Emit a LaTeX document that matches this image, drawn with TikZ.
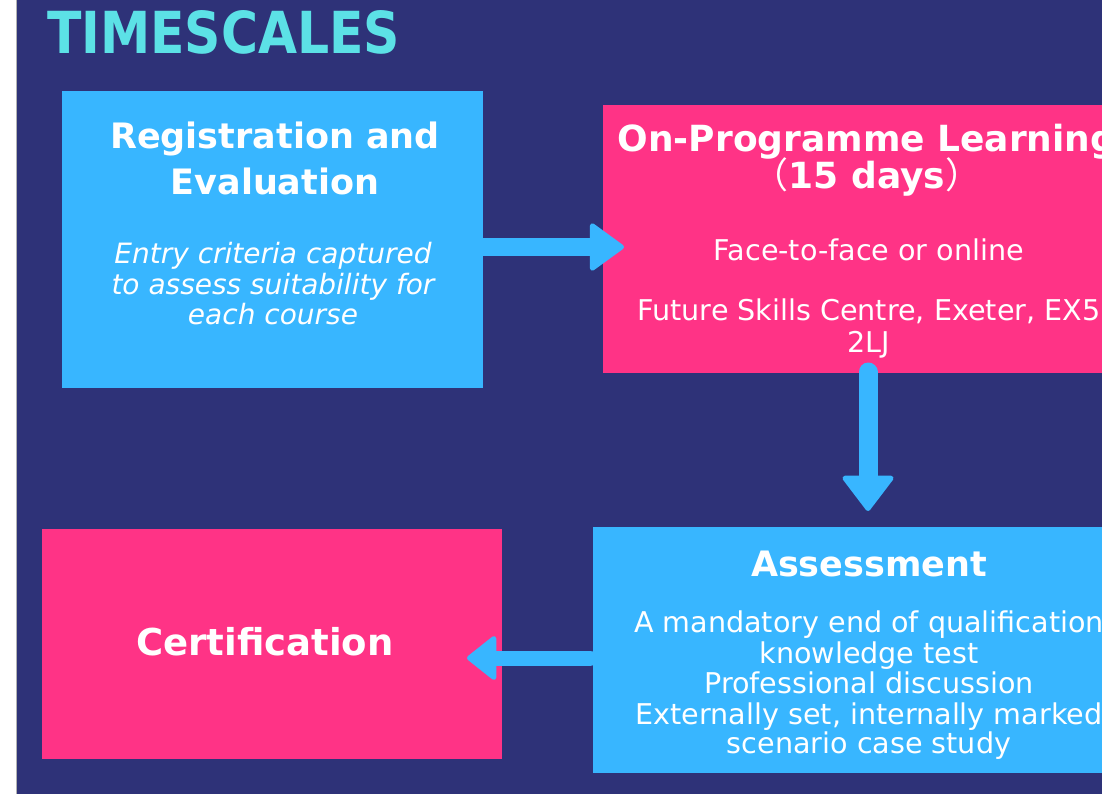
\documentclass[tikz,border=0pt]{standalone}
\usepackage{fontspec}
\usepackage{graphicx}
\setmainfont{DejaVu Sans}
\newfontfamily\cjk{Noto Sans CJK SC}
\usetikzlibrary{arrows.meta}
\definecolor{navy}{HTML}{2E3278}
\definecolor{skyblue}{HTML}{38B6FF}
\definecolor{hotpink}{HTML}{FF3386}
\definecolor{titlecyan}{HTML}{5CE1E6}
\tikzset{
  panel/.style={rectangle, inner sep=0pt, anchor=north west, draw=none},
  bluepanel/.style={panel, fill=skyblue},
  pinkpanel/.style={panel, fill=hotpink},
  head/.style={text=white, anchor=base, inner sep=0pt, font=\fontsize{35}{40}\selectfont\bfseries},
  body/.style={text=white, anchor=base, inner sep=0pt, font=\fontsize{28.6}{31}\selectfont},
  ital/.style={body, font=\fontsize{28}{31}\selectfont\itshape},
  flow/.style={draw=skyblue, line cap=round}
}
\begin{document}
\begin{tikzpicture}[x=1pt,y=-1pt]
\useasboundingbox (0,0) rectangle (1102,794);
\clip (0,0) rectangle (1102,794);
\fill[white] (0,0) rectangle (17,794);
\fill[navy] (17,0) rectangle (1102,794);
\draw[gray!60, line width=0.8pt] (16.6,0) -- (16.6,794);
% title
\node[text=titlecyan, anchor=base west, inner sep=0pt] (title) at (47,54)
  {\resizebox{353pt}{43pt}{\bfseries TIMESCALES}};
% panels
\node[bluepanel, minimum width=421pt, minimum height=297pt] (reg) at (62,91) {};
\node[pinkpanel, minimum width=528pt, minimum height=268pt] (onprog) at (603,105) {};
\node[pinkpanel, minimum width=460pt, minimum height=230pt] (cert) at (42,529) {};
\node[bluepanel, minimum width=552pt, minimum height=246pt] (assess) at (593,527) {};
% texts: registration
\node[head] (regh1) at (275,149) {Registration and};
\node[head] (regh2) at (275,195) {Evaluation};
\node[ital] (regb1) at (273,263) {Entry criteria captured};
\node[ital] (regb2) at (273,294) {to assess suitability for};
\node[ital] (regb3) at (273,324) {each course};
% on-programme
\node[head, font=\fontsize{36}{40}\selectfont\bfseries] (onh1) at (867,152) {On-Programme Learning};
\node[head, font=\fontsize{36}{40}\selectfont\bfseries] (onh2) at (867,189) {{\mdseries\cjk （}15 days{\mdseries\cjk ）}};
\node[body] (onb1) at (869,260) {Face-to-face or online};
\node[body] (onb2) at (869,320) {Future Skills Centre, Exeter, EX5};
\node[body] (onb3) at (869,352) {2LJ};
% certification
\node[head, font=\fontsize{37}{40}\selectfont\bfseries] (certh) at (265,655) {Certification};
% assessment
\node[head] (assh) at (869,576) {Assessment};
\node[body] (assb1) at (869,632) {A mandatory end of qualification};
\node[body] (assb2) at (869,663) {knowledge test};
\node[body] (assb3) at (869,693) {Professional discussion};
\node[body] (assb4) at (869,724) {Externally set, internally marked};
\node[body] (assb5) at (869,753) {scenario case study};
% connectors
\coordinate (a1s) at (483,247);
\coordinate (a1e) at (624,247);
\coordinate (a2s) at (868,372);
\coordinate (a2e) at (868,511);
\coordinate (a3s) at (590,658);
\coordinate (a3e) at (467,658);
\draw[flow, line width=18pt, -{Triangle[length=36pt,width=51pt,line width=5pt,round,fill=skyblue]}] (a1s) -- (a1e);
\draw[flow, line width=19pt, -{Triangle[length=37pt,width=55pt,line width=5pt,round,fill=skyblue]}] (a2s) -- (a2e);
\draw[flow, line width=15pt, -{Triangle[length=31pt,width=48pt,line width=5pt,round,fill=skyblue]}] (a3s) -- (a3e);
\end{tikzpicture}
\end{document}
